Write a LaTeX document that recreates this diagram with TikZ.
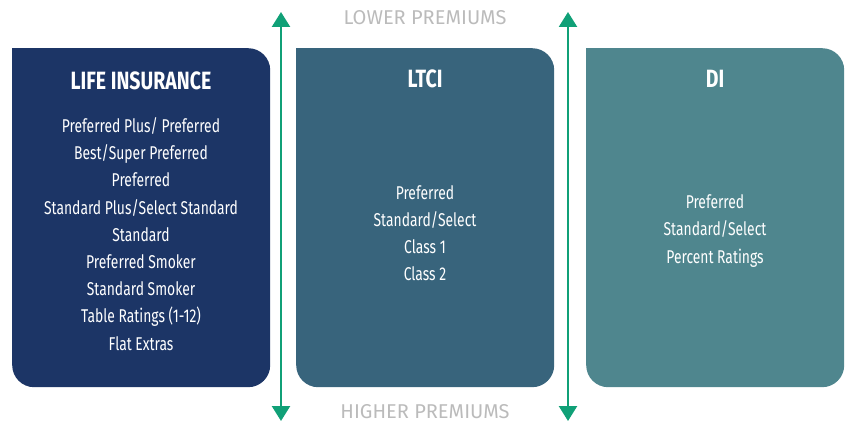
\documentclass[tikz,border=0pt]{standalone}
\usepackage{fontspec}
\setmainfont{Fira Sans}[FakeStretch=0.75]
\newfontfamily\titlefont{Fira Sans}[FakeStretch=0.78]
\newfontfamily\labelfont{Fira Sans}[FakeStretch=1.0]
\usetikzlibrary{arrows.meta}
\definecolor{cLife}{HTML}{1C3566}
\definecolor{cLtci}{HTML}{38647C}
\definecolor{cDi}{HTML}{4F868E}
\definecolor{cArrow}{HTML}{10A077}
\definecolor{cGray}{HTML}{BBBBBB}
\tikzset{
  panel/.style={rectangle, rounded corners=22pt, minimum width=258pt, minimum height=339pt, inner sep=0pt, anchor=north west},
  ptitle/.style={text=white, font=\titlefont\bfseries\fontsize{25}{28}\selectfont, inner sep=0pt},
  plist/.style={text=white, align=center, font=\fontsize{18.5}{27.2}\selectfont, inner sep=0pt},
  premlabel/.style={text=cGray, font=\labelfont\fontsize{20}{22}\selectfont, inner sep=0pt},
  premarrow/.style={draw=cArrow, line width=2.4pt, {Triangle[width=18pt,length=15pt]}-{Triangle[width=18pt,length=15pt]}}
}
\begin{document}
\begin{tikzpicture}[x=1pt,y=-1pt]
\useasboundingbox (0,0) rectangle (848,425);
% panels
\node[panel, fill=cLife] (life) at (12,48) {};
\fill[cLife] (life.north west) rectangle ++(30,30);
\node[panel, fill=cLtci] (ltci) at (296,48) {};
\fill[cLtci] (ltci.north west) rectangle ++(30,30);
\node[panel, fill=cDi] (di) at (586,48) {};
\fill[cDi] (di.north west) rectangle ++(30,30);
% titles
\node[ptitle] (lifeT) at (141,81) {LIFE INSURANCE};
\node[ptitle] (ltciT) at (425,79) {LTCI};
\node[ptitle] (diT) at (715,79) {DI};
% lists
\node[plist] (lifeL) at (141,234) {Preferred Plus/ Preferred\\Best/Super Preferred\\Preferred\\Standard Plus/Select Standard\\Standard\\Preferred Smoker\\Standard Smoker\\Table Ratings (1-12)\\Flat Extras};
\node[plist] (ltciL) at (425,233) {Preferred\\Standard/Select\\Class 1\\Class 2};
\node[plist] (diL) at (715,231) {Preferred\\Standard/Select\\Percent Ratings};
% labels
\node[premlabel] (lower) at (425,18) {LOWER PREMIUMS};
\node[premlabel] (higher) at (425,412) {HIGHER PREMIUMS};
% arrows
\coordinate (a1t) at (281,12);
\coordinate (a1b) at (281,421);
\coordinate (a2t) at (568,12);
\coordinate (a2b) at (568,421);
\draw[premarrow] (a1b) -- (a1t);
\draw[premarrow] (a2b) -- (a2t);
\end{tikzpicture}
\end{document}
